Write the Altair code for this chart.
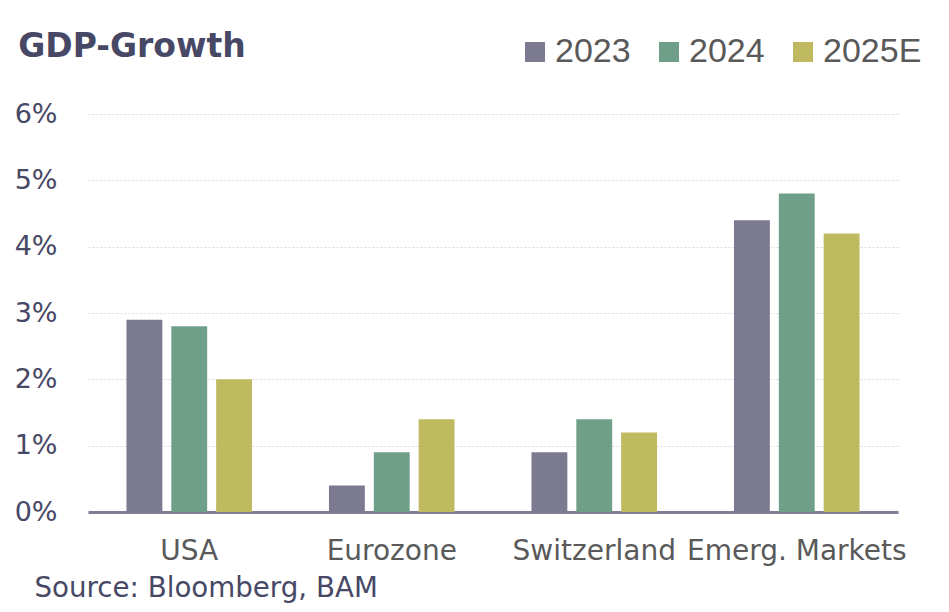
import altair as alt
import pandas as pd

regions = ["USA", "Eurozone", "Switzerland", "Emerg. Markets"]
years = ["2023", "2024", "2025E"]
g2023 = [2.9, 0.4, 0.9, 4.4]
g2024 = [2.8, 0.9, 1.4, 4.8]
g2025 = [2.0, 1.4, 1.2, 4.2]
colors = ["#7B7A90", "#709F89", "#BFBA5F"]
y_ticks = [0, 1, 2, 3, 4, 5, 6]

rows = []
for i, r in enumerate(regions):
    for y, series in zip(years, [g2023, g2024, g2025]):
        rows.append({"region": r, "year": y, "growth": series[i]})
df = pd.DataFrame(rows)

FONT = "DejaVu Sans"
LFONT = "Liberation Sans"

chart = alt.Chart(df).mark_bar().encode(
    x=alt.X("region:N", sort=regions,
            scale=alt.Scale(paddingInner=0.38, paddingOuter=0.19),
            axis=alt.Axis(title="Source: Bloomberg, BAM", labelAngle=0,
                          labelFont=FONT, labelFontSize=28, labelColor="#595959",
                          labelPadding=25, labelLimit=0, ticks=False,
                          domainColor="#7F7E94", domainWidth=3,
                          titleFont=FONT, titleFontSize=27.7, titleFontWeight="normal",
                          titleColor="#474865", titleAnchor="start", titleAlign="left",
                          titleX=-54, titleY=84, titleBaseline="alphabetic")),
    xOffset=alt.XOffset("year:N", sort=years,
                        scale=alt.Scale(paddingInner=0.2, paddingOuter=0.0)),
    y=alt.Y("growth:Q", scale=alt.Scale(domain=[0, 6], nice=False),
            axis=alt.Axis(title=None, values=y_ticks, labelExpr="datum.value + '%'",
                          labelFont=FONT, labelFontSize=27, labelColor="#474865",
                          labelPadding=31, ticks=False, domain=False,
                          gridColor="#D9D9E4", gridDash=[2, 2], gridWidth=1)),
    color=alt.Color("year:N", sort=years,
                    scale=alt.Scale(domain=years, range=colors),
                    legend=alt.Legend(title=None, orient="none", direction="horizontal",
                                      legendX=430, legendY=-79,
                                      symbolType="square", symbolSize=400,
                                      symbolStrokeWidth=0,
                                      labelFont=LFONT, labelFontSize=34,
                                      labelColor="#595959", labelOffset=3,
                                      columnPadding=21, symbolOpacity=1)),
).properties(
    width=810, height=398,
    title=alt.TitleParams("GDP-Growth", anchor="start", dx=4, offset=0, dy=55,
                          baseline="alphabetic",
                          font=FONT, fontSize=33, fontWeight="bold",
                          color="#474865"),
    autosize=alt.AutoSizeParams(type="none"),
    padding={"left": 80, "top": 106, "right": 43, "bottom": 92},
    background="white",
).configure_view(strokeWidth=0, stroke="transparent")

chart.save("out.html", embed_options={"renderer": "svg", "actions": False})
